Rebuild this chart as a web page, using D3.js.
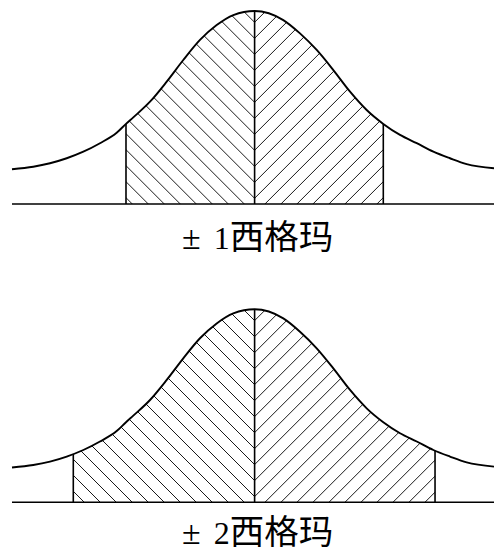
<!DOCTYPE html>
<html><head><meta charset="utf-8">
<script src="https://cdn.jsdelivr.net/npm/d3@7"></script>
<style>html,body{margin:0;padding:0;background:#fff;}svg{display:block}</style>
</head><body>
<svg id="chart" width="494" height="550"></svg>
<script>
// Curve: horizontal position (units) and relative height (peak = 1)
const curveZ = [-3.02, -2.755, -2.547, -2.339, -2.132, -1.925, -1.717, -1.601, -1.510, -1.302, -1.094, -0.888, -0.680, -0.472, -0.265, 0,
                0.357, 0.565, 0.773, 0.980, 1.188, 1.395, 1.602, 1.810, 2.018, 2.225, 2.432, 2.640, 2.980];
const curveH = [0.180, 0.193, 0.211, 0.237, 0.271, 0.315, 0.369, 0.415, 0.449, 0.530, 0.634, 0.746, 0.850, 0.927, 0.979, 1.000,
                0.953, 0.884, 0.798, 0.694, 0.582, 0.487, 0.415, 0.358, 0.315, 0.271, 0.237, 0.207, 0.185];
const labelSign = "±";
const labelNums = ["1", "2"];
const labelWord = "西格玛";
const shadeLow  = [-1.601, -2.257];
const shadeHigh = [1.602, 2.246];
const xDomain = [-3.02, 2.98];

const svg = d3.select("#chart");
const x = d3.scaleLinear().domain(xDomain).range([12, 494]);
const pts = curveZ.map((z, i) => ({z, h: curveH[i]}));
const layout = [{base: 204, peak: 11, labelY: 248.5}, {base: 502.3, peak: 309.3, labelY: 544}];

labelNums.forEach((num, p) => {
  const L = layout[p];
  const y = d3.scaleLinear().domain([0, 1]).range([L.base, L.peak]);
  const g = svg.append("g");
  const cx = x(0);

  const line = d3.line().x(d => x(d.z)).y(d => y(d.h)).curve(d3.curveMonotoneX);
  const area = d3.area().x(d => x(d.z)).y0(y(0)).y1(d => y(d.h)).curve(d3.curveMonotoneX);

  const defs = g.append("defs");
  defs.append("clipPath").attr("id", "under" + p)
    .append("path").attr("d", area(pts));
  defs.append("clipPath").attr("id", "band" + p)
    .append("rect")
    .attr("x", x(shadeLow[p])).attr("y", y(1.2))
    .attr("width", x(shadeHigh[p]) - x(shadeLow[p]))
    .attr("height", y(0) - y(1.2));

  // hatching (chevrons meeting at the centre line)
  const hatch = g.append("g").attr("clip-path", `url(#under${p})`)
    .append("g").attr("clip-path", `url(#band${p})`);
  const step = 16, len = 320;
  const start = y(0) - 5.7;
  for (let yk = start + step * 20; yk > y(1) - step; yk -= step) {
    hatch.append("line").attr("x1", cx).attr("y1", yk).attr("x2", cx - len).attr("y2", yk - len);
    hatch.append("line").attr("x1", cx).attr("y1", yk).attr("x2", cx + len).attr("y2", yk - len);
  }
  hatch.selectAll("line").attr("stroke", "#1a1a1a").attr("stroke-width", 1);

  // vertical lines (clipped to curve)
  const verts = g.append("g").attr("clip-path", `url(#under${p})`);
  [shadeLow[p], 0, shadeHigh[p]].forEach(v => {
    verts.append("line").attr("x1", x(v)).attr("x2", x(v))
      .attr("y1", y(0)).attr("y2", y(1.1))
      .attr("stroke", "#000").attr("stroke-width", 1.6);
  });

  // baseline
  g.append("line").attr("x1", x.range()[0]).attr("x2", x.range()[1])
    .attr("y1", y(0)).attr("y2", y(0))
    .attr("stroke", "#000").attr("stroke-width", 1.6);

  // curve
  g.append("path").attr("d", line(pts)).attr("fill", "none")
    .attr("stroke", "#000").attr("stroke-width", 1.9);

  // label
  const t = g.append("text").attr("x", cx + 3).attr("y", L.labelY)
    .attr("text-anchor", "middle")
    .style("font-family", "'Liberation Serif', serif")
    .attr("fill", "#000");
  t.append("tspan").style("font-size", "34px").text(labelSign);
  t.append("tspan").attr("dx", 13).style("font-size", "32px").text(num);
  t.append("tspan").style("font-size", "34.5px")
    .style("font-family", "'Noto Sans CJK SC', sans-serif").text(labelWord);
});
</script>
</body></html>
